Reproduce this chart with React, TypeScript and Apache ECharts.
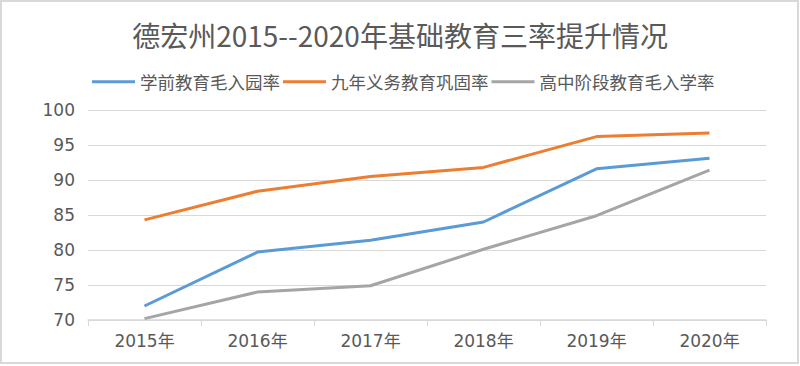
import React, { useEffect, useRef } from "react";
import * as echarts from "echarts";

const categories = ["2015年", "2016年", "2017年", "2018年", "2019年", "2020年"];
const preschool = [72.0, 79.7, 81.4, 84.0, 91.6, 93.1];
const compulsory = [84.3, 88.4, 90.5, 91.8, 96.2, 96.7];
const highschool = [70.2, 74.0, 74.9, 80.1, 84.9, 91.4];
const seriesNames = ["学前教育毛入园率", "九年义务教育巩固率", "高中阶段教育毛入学率"];
const title = "德宏州2015--2020年基础教育三率提升情况";

const FONT = "'Noto Sans CJK SC', 'Noto Sans', sans-serif";
const AXFONT = "'DejaVu Sans', 'Noto Sans CJK SC', sans-serif";

export default function App() {
  const ref = useRef<HTMLDivElement>(null);
  useEffect(() => {
    if (!ref.current) return;
    const chart = echarts.init(ref.current, undefined, { renderer: "svg" });
    const mk = (name: string, data: number[], color: string) => ({
      name,
      type: "line",
      data,
      symbol: "none",
      lineStyle: { width: 3, color },
      itemStyle: { color },
    });
    chart.setOption({
      animation: false,
      backgroundColor: "#fff",
      textStyle: { fontFamily: FONT },
      title: {
        text: title,
        left: "center",
        top: 16,
        textStyle: { fontSize: 28, fontWeight: "normal", color: "#595959", fontFamily: FONT },
      },
      legend: {
        left: 87,
        top: 68,
        icon: "rect",
        itemWidth: 43,
        itemHeight: 3,
        itemGap: 3,
        textStyle: { fontSize: 17.5, color: "#595959", fontFamily: FONT },
        data: seriesNames,
      },
      graphic: [
        {
          type: "rect",
          shape: { x: 1, y: 1, width: 797, height: 362 },
          style: { fill: "none", stroke: "#d9d9d9", lineWidth: 2 },
          silent: true,
        },
      ],
      grid: { left: 88, right: 34, top: 110, bottom: 46, containLabel: false },
      xAxis: {
        type: "category",
        data: categories,
        boundaryGap: true,
        axisLine: { lineStyle: { color: "#d9d9d9", width: 1.5 } },
        axisTick: { show: true, length: 6, lineStyle: { color: "#d9d9d9" } },
        axisLabel: { fontSize: 17, color: "#595959", margin: 12, fontFamily: AXFONT },
      },
      yAxis: {
        type: "value",
        min: 70,
        max: 100,
        interval: 5,
        axisLine: { show: false },
        axisTick: { show: false },
        splitLine: { lineStyle: { color: "#d9d9d9", width: 1 } },
        axisLabel: { fontSize: 17, color: "#595959", margin: 13, fontFamily: AXFONT },
      },
      series: [
        mk(seriesNames[0], preschool, "#5B9BD5"),
        mk(seriesNames[1], compulsory, "#ED7D31"),
        mk(seriesNames[2], highschool, "#A5A5A5"),
      ],
    });
    return () => chart.dispose();
  }, []);
  return <div ref={ref} style={{ width: 800, height: 366, position: "absolute", left: 0, top: 0 }} />;
}
